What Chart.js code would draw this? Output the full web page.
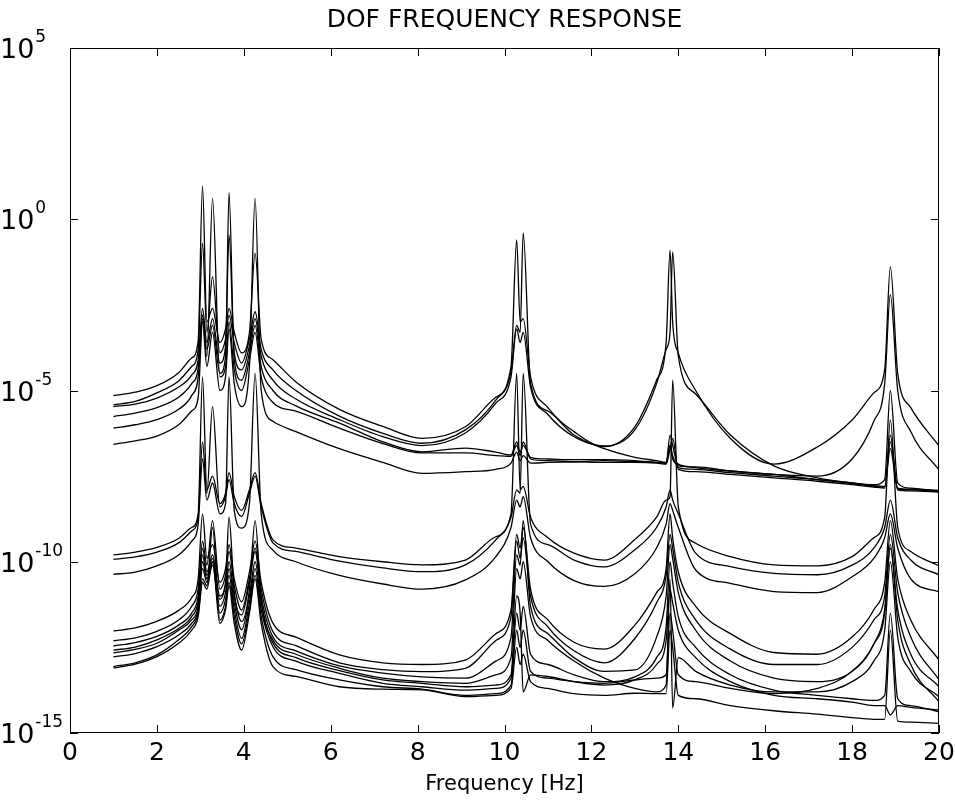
<!DOCTYPE html>
<html>
<head>
<meta charset="utf-8">
<script src="https://cdn.jsdelivr.net/npm/chart.js@4"></script>
<style>
html,body{margin:0;padding:0;background:#fff;}
#wrap{width:955px;height:803px;}
</style>
</head>
<body>
<div id="wrap"><canvas id="c" width="955" height="803"></canvas></div>
<script>
// Frequency grid (Hz) shared by all curves
const freqHz = [1, 1.5, 2, 2.5, 2.8, 2.95,
  3.05, 3.15, 3.28, 3.45, 3.58, 3.66, 3.78, 3.95, 4.13, 4.26,
  4.4, 4.67, 5.2, 6.2, 7.2, 8.1,
  9.1, 9.8, 10.15, 10.28, 10.36, 10.43, 10.6, 11.0, 11.6, 12.3,
  13.0, 13.5, 13.72, 13.81, 13.87, 14.0, 14.4, 15.2, 16.2, 17.2,
  18.0, 18.5, 18.75, 18.88, 19.05, 19.35, 20];

// Response magnitudes, as log10 of the value
const top1Log10 = [-5.15, -5.05, -4.86, -4.48, -4.05, -3.55,
  0.97, -3.0, -2.6, -3.6, -3.2, -2.6, -3.3, -3.9, -3.3, -0.99,
  -3.5, -4.1, -4.75, -5.55, -6.05, -6.40,
  -6.06, -5.2, -4.3, -0.6, -3.0, -2.9, -4.6, -5.5, -6.2, -6.64,
  -6.06, -4.7, -3.6, -0.9, -3.0, -3.9, -5.0, -6.4, -7.15, -6.65,
  -5.86, -5.07, -4.4, -1.39, -4.5, -5.5, -6.62];
const top2Log10 = [-5.42, -5.32, -5.07, -4.72, -4.3, -3.8,
  -0.7, -3.3, -1.68, -3.9, -3.5, -2.8, -3.6, -4.2, -3.5, -2.7,
  -3.8, -4.4, -5.0, -5.75, -6.25, -6.54,
  -6.15, -5.28, -4.45, -3.1, -3.3, -0.4, -4.8, -5.6, -6.3, -6.7,
  -6.95, -7.05, -7.1, -6.6, -7.0, -7.15, -7.25, -7.35, -7.45, -7.5,
  -7.0, -5.9, -4.8, -2.2, -5.0, -6.2, -7.32];
const top3Log10 = [-5.47, -5.4, -5.22, -4.9, -4.55, -4.1,
  -2.6, -3.6, -2.9, -4.2, -3.7, -0.46, -3.9, -4.4, -3.7, -2.9,
  -4.0, -4.7, -5.25, -5.85, -6.35, -6.61,
  -6.24, -5.37, -4.6, -3.2, -3.6, -3.3, -4.9, -5.7, -6.35, -6.62,
  -6.15, -4.8, -3.8, -3.3, -0.95, -4.0, -5.1, -6.3, -7.2, -7.55,
  -7.7, -7.75, -7.6, -5.0, -7.7, -7.85, -7.95];
const top4Log10 = [-5.76, -5.66, -5.5, -5.2, -4.8, -4.35,
  -2.8, -3.8, -3.1, -4.5, -4.0, 0.78, -4.1, -4.7, -3.9, -3.1,
  -4.3, -5.0, -5.45, -5.95, -6.5, -6.79,
  -6.68, -6.8, -6.88, -6.5, -6.8, -6.6, -6.95, -7.0, -7.02, -7.02,
  -7.05, -7.1, -7.12, -6.3, -6.6, -7.2, -7.23, -7.35, -7.45, -7.6,
  -7.72, -7.8, -7.82, -6.5, -7.85, -7.88, -7.92];
const top5Log10 = [-6.1, -6.0, -5.85, -5.55, -5.15, -4.6,
  -2.9, -4.0, 0.61, -4.6, -4.3, -3.0, -4.4, -5.0, -4.1, -3.3,
  -4.6, -5.35, -5.6, -6.1, -6.55, -6.82,
  -6.82, -6.9, -6.92, -6.6, -6.9, -6.5, -7.0, -7.05, -7.08, -7.1,
  -7.1, -7.12, -7.15, -6.7, -6.4, -7.3, -7.37, -7.45, -7.55, -7.65,
  -7.75, -7.82, -7.85, -6.3, -7.9, -7.93, -7.97];
const top6Log10 = [-6.57, -6.47, -6.33, -6.0, -5.6, -5.2,
  -3.0, -4.3, -3.3, -5.0, -4.6, -3.2, -4.8, -5.47, -4.3, 0.61,
  -5.0, -5.9, -6.2, -6.7, -7.1, -7.42,
  -7.37, -7.3, -7.12, -6.8, -7.05, -6.9, -7.12, -7.1, -7.08, -7.05,
  -7.08, -7.1, -7.13, -6.6, -6.9, -7.25, -7.3, -7.4, -7.5, -7.6,
  -7.7, -7.78, -7.8, -6.7, -7.88, -7.9, -7.94];

const mid1Log10 = [-9.8, -9.72, -9.58, -9.32, -9.0, -8.6,
  -4.6, -7.9, -7.5, -8.3, -8.0, -7.4, -8.1, -8.5, -7.9, -7.4,
  -8.3, -9.36, -9.6, -9.85, -10.0, -10.09,
  -9.95, -9.27, -8.6, -4.5, -7.9, -7.8, -8.7, -9.3, -9.75, -9.95,
  -9.35, -8.7, -8.2, -8.1, -4.7, -8.4, -9.46, -9.85, -10.09, -10.12,
  -9.85, -9.3, -8.7, -5.86, -9.0, -9.7, -10.12];
const mid2Log10 = [-9.93, -9.86, -9.72, -9.45, -9.1, -8.7,
  -6.5, -8.0, -5.47, -8.4, -8.1, -7.6, -8.3, -8.68, -8.0, -7.5,
  -8.4, -9.45, -9.7, -9.98, -10.18, -10.29,
  -10.09, -9.36, -8.7, -7.9, -8.0, -4.5, -8.9, -9.5, -9.95, -10.15,
  -9.65, -9.0, -8.4, -7.9, -8.2, -8.6, -9.75, -10.14, -10.34, -10.38,
  -10.1, -9.6, -9.0, -8.2, -9.3, -9.95, -10.38];
const mid3Log10 = [-10.37, -10.3, -10.12, -9.8, -9.4, -8.9,
  -7.0, -8.2, -7.7, -8.6, -8.3, -4.6, -8.5, -9.02, -8.3, -4.5,
  -8.6, -9.66, -10.0, -10.4, -10.65, -10.8,
  -10.53, -9.85, -9.0, -8.2, -8.4, -8.1, -9.3, -10.0, -10.55, -10.72,
  -10.35, -9.6, -8.9, -8.3, -8.5, -9.0, -10.24, -10.63, -10.87, -10.9,
  -10.44, -9.9, -9.3, -8.6, -9.6, -10.5, -10.88];

const low1Log10 = [-12.02, -11.93, -11.74, -11.42, -11.05, -10.5,
  -8.6, -9.9, -9.5, -10.6, -10.2, -9.5, -10.5, -11.17, -10.3, -9.4,
  -10.6, -11.79, -12.2, -12.72, -12.95, -13.0,
  -12.87, -12.1, -11.4, -9.2, -9.6, -9.0, -10.8, -11.7, -12.35, -12.55,
  -11.85, -10.9, -10.2, -8.6, -9.3, -10.3, -11.3, -12.1, -12.65, -12.7,
  -12.2, -11.4, -10.6, -8.8, -10.5, -11.7, -12.87];
const low2Log10 = [-12.31, -12.22, -12.03, -11.7, -11.3, -10.8,
  -9.4, -10.1, -8.8, -10.8, -10.4, -9.7, -10.7, -11.41, -10.5, -9.6,
  -10.8, -12.04, -12.45, -12.95, -13.15, -13.21,
  -13.11, -12.3, -11.6, -9.4, -9.9, -9.3, -11.0, -11.9, -12.6, -12.95,
  -12.24, -11.2, -10.4, -9.2, -9.6, -10.6, -11.7, -12.55, -13.0, -13.0,
  -12.5, -11.7, -11.0, -9.2, -10.9, -12.2, -13.45];
const low3Log10 = [-12.46, -12.36, -12.18, -11.85, -11.5, -11.0,
  -9.6, -10.3, -9.8, -11.0, -10.6, -8.7, -10.9, -11.55, -10.6, -9.7,
  -11.0, -12.19, -12.6, -13.04, -13.25, -13.36,
  -13.4, -12.9, -12.2, -9.8, -10.1, -8.8, -11.3, -12.1, -12.8, -13.2,
  -13.16, -12.2, -11.0, -9.5, -9.9, -10.9, -12.0, -12.9, -13.4, -13.5,
  -13.2, -12.4, -11.4, -9.6, -11.4, -12.7, -13.65];
const low4Log10 = [-12.58, -12.49, -12.28, -11.95, -11.6, -11.15,
  -9.8, -10.4, -9.9, -11.1, -10.7, -10.0, -11.0, -11.75, -10.8, -8.8,
  -11.1, -12.28, -12.7, -13.11, -13.4, -13.5,
  -13.55, -13.3, -12.8, -10.2, -10.5, -10.0, -11.6, -12.3, -12.9, -13.4,
  -13.7, -13.8, -13.6, -10.5, -14.27, -12.8, -13.2, -13.6, -13.8, -13.8,
  -13.5, -12.9, -12.0, -10.0, -12.2, -13.2, -13.94];
const low5Log10 = [-12.66, -12.56, -12.38, -12.0, -11.7, -11.3,
  -10.0, -10.5, -10.0, -11.3, -10.9, -10.2, -11.2, -11.99, -11.0, -10.0,
  -11.2, -12.37, -12.8, -13.18, -13.45, -13.55,
  -13.65, -13.6, -13.3, -11.0, -11.5, -13.8, -13.3, -13.35, -13.5, -13.6,
  -13.45, -13.0, -12.3, -10.8, -11.2, -12.0, -12.8, -13.5, -13.9, -14.0,
  -14.1, -14.2, -14.2, -14.47, -14.2, -14.25, -14.33];
const low6Log10 = [-12.78, -12.68, -12.48, -12.14, -11.8, -11.4,
  -10.2, -10.6, -10.1, -11.5, -11.1, -10.4, -11.4, -12.24, -11.2, -10.2,
  -11.4, -12.48, -12.9, -13.26, -13.55, -13.65,
  -13.75, -13.7, -13.4, -11.5, -12.0, -11.3, -12.7, -13.0, -13.3, -13.5,
  -13.36, -12.8, -11.9, -10.0, -10.6, -11.6, -12.5, -13.3, -13.75, -13.9,
  -14.0, -14.05, -13.9, -11.5, -14.0, -14.2, -14.38];
const low7Log10 = [-13.06, -12.95, -12.72, -12.28, -11.9, -11.5,
  -10.5, -10.7, -9.0, -11.7, -11.3, -10.6, -11.6, -12.4, -11.4, -10.4,
  -11.6, -12.77, -13.15, -13.45, -13.65, -13.72,
  -13.9, -13.85, -13.6, -12.0, -12.5, -12.0, -13.2, -13.4, -13.5, -13.55,
  -13.45, -13.4, -13.3, -11.5, -12.0, -13.3, -13.5, -13.7, -13.85, -13.7,
  -13.2, -12.4, -11.5, -9.5, -11.7, -13.0, -14.09];
const low8Log10 = [-13.1, -12.99, -12.77, -12.38, -12.0, -11.6,
  -10.6, -10.8, -10.0, -11.8, -11.4, -10.7, -11.8, -12.58, -11.5, -10.5,
  -11.8, -13.06, -13.35, -13.65, -13.72, -13.74,
  -13.94, -13.9, -13.7, -12.5, -13.0, -12.7, -13.5, -13.7, -13.85, -13.9,
  -13.84, -13.85, -13.85, -12.0, -12.5, -13.9, -14.0, -14.2, -14.35, -14.45,
  -14.55, -14.6, -14.6, -12.0, -14.65, -14.68, -14.72];

// Axis ticks and texts
const xTickValues = [0, 2, 4, 6, 8, 10, 12, 14, 16, 18, 20];
const yTickValues = [1e-15, 1e-10, 1e-5, 1e0, 1e5];
const yTickBase = '10';
const yTickExponents = ['-15', '-10', '-5', '0', '5'];
const chartTitle = 'DOF FREQUENCY RESPONSE';
const xAxisTitle = 'Frequency [Hz]';

const curves = [top1Log10, top2Log10, top3Log10, top4Log10, top5Log10, top6Log10,
  mid1Log10, mid2Log10, mid3Log10,
  low1Log10, low2Log10, low3Log10, low4Log10, low5Log10, low6Log10, low7Log10, low8Log10];

const datasets = curves.map((c, i) => ({
  label: 'DOF ' + (i + 1),
  data: c.map((v, j) => ({ x: freqHz[j], y: Math.pow(10, v) })),
  borderColor: '#000',
  borderWidth: 1.3,
  pointRadius: 0,
  fill: false,
  cubicInterpolationMode: 'monotone'
}));

const FONT = 'DejaVu Sans';
const TICK_LEN = 8;

const boxTicks = {
  id: 'boxTicks',
  afterDraw(chart) {
    const { ctx, chartArea: a, scales } = chart;
    ctx.save();
    ctx.strokeStyle = '#000';
    ctx.lineWidth = 1;
    ctx.beginPath();
    ctx.rect(Math.round(a.left) + 0.5, Math.round(a.top) + 0.5,
             Math.round(a.right - a.left) - 1, Math.round(a.bottom - a.top) - 1);
    scales.x.ticks.forEach(t => {
      const px = Math.round(scales.x.getPixelForValue(t.value)) + 0.5;
      ctx.moveTo(px, a.bottom); ctx.lineTo(px, a.bottom - TICK_LEN);
      ctx.moveTo(px, a.top); ctx.lineTo(px, a.top + TICK_LEN);
    });
    scales.y.ticks.forEach(t => {
      const py = Math.round(scales.y.getPixelForValue(t.value)) + 0.5;
      ctx.moveTo(a.left, py); ctx.lineTo(a.left + TICK_LEN, py);
      ctx.moveTo(a.right, py); ctx.lineTo(a.right - TICK_LEN, py);
    });
    ctx.stroke();
    // y tick labels: base "10" with a raised exponent
    ctx.fillStyle = '#000';
    ctx.textAlign = 'left';
    ctx.textBaseline = 'alphabetic';
    yTickValues.forEach((v, i) => {
      const py = scales.y.getPixelForValue(v);
      ctx.font = '27px "' + FONT + '"';
      const bw = ctx.measureText(yTickBase).width;
      ctx.fillText(yTickBase, 0, py + 10);
      ctx.font = '17px "' + FONT + '"';
      ctx.fillText(yTickExponents[i], bw + 1, py - 6);
    });
    ctx.restore();
  }
};

new Chart(document.getElementById('c'), {
  type: 'line',
  data: { datasets },
  options: {
    responsive: false,
    animation: false,
    devicePixelRatio: 1,
    layout: { padding: { left: 0, right: 16, top: 0, bottom: 0 } },
    plugins: {
      legend: { display: false },
      tooltip: { enabled: false },
      title: {
        display: true, text: chartTitle, color: '#000', fullSize: false,
        font: { family: FONT, size: 25, weight: 'normal' },
        padding: { top: 5, bottom: 13 }
      }
    },
    scales: {
      x: {
        type: 'linear', min: 0, max: 20,
        afterBuildTicks: s => { s.ticks = xTickValues.map(v => ({ value: v })); },
        ticks: { color: '#000', font: { family: FONT, size: 25 }, padding: 5, maxRotation: 0, autoSkip: false,
                 callback: v => String(v) },
        grid: { display: false, drawTicks: false },
        border: { display: false },
        title: { display: true, text: xAxisTitle, color: '#000', font: { family: FONT, size: 21 }, padding: { top: 0, bottom: 6 } },
        afterFit: s => { s.height = 70; s.paddingLeft = 0; s.paddingRight = 0; }
      },
      y: {
        type: 'logarithmic', min: 1e-15, max: 1e5,
        afterBuildTicks: s => { s.ticks = yTickValues.map(v => ({ value: v })); },
        ticks: { display: false },
        grid: { display: false, drawTicks: false },
        border: { display: false },
        afterFit: s => { s.width = 70; s.paddingTop = 0; s.paddingBottom = 0; }
      }
    }
  },
  plugins: [boxTicks]
});
</script>
</body>
</html>
